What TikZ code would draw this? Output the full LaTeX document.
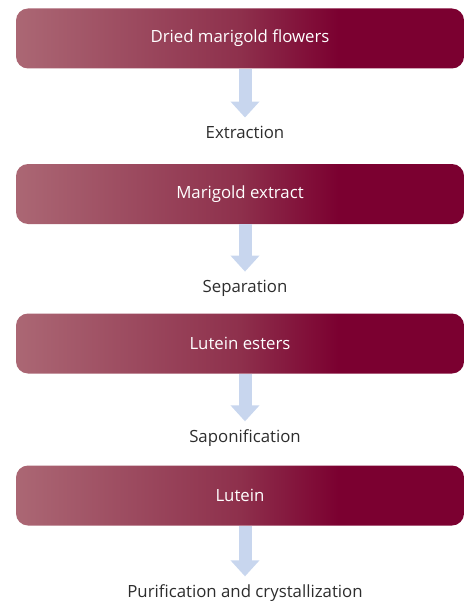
\documentclass[tikz,border=0pt]{standalone}
\usepackage{fontspec}
\setmainfont{Open Sans}
\usetikzlibrary{arrows.meta}
\definecolor{mglight}{RGB}{171,103,116}
\definecolor{mgmid}{RGB}{142,48,76}
\definecolor{mgdark}{RGB}{123,0,48}
\definecolor{arrowblue}{RGB}{200,214,238}
\definecolor{labelgray}{RGB}{45,45,45}
\pgfdeclarehorizontalshading{marigold}{100bp}{color(0bp)=(mglight); color(25bp)=(mglight); color(50bp)=(mgmid); color(61bp)=(mgdark); color(100bp)=(mgdark)}
\begin{document}
\begin{tikzpicture}[x=1pt, y=-1pt, font=\fontsize{16.8}{20}\selectfont,
  stepbox/.style={rectangle, rounded corners=12pt, shading=marigold, minimum width=448pt, minimum height=60pt, text=white},
  steplabel/.style={text=labelgray, inner sep=0pt},
  flow/.style={arrowblue, line width=13pt, shorten >=8pt, -{Triangle[width=28pt,length=16pt]}}]
	\useasboundingbox (0,0) rectangle (464,604);
	\node[stepbox] (dried) at (240,38.5) {Dried marigold flowers};
	\node[stepbox] (extract) at (240,194) {Marigold extract};
	\node[stepbox] (esters) at (240,343.5) {Lutein esters};
	\node[stepbox] (lutein) at (240,495.5) {Lutein};
	\node[steplabel] (extraction) at (245,132) {Extraction};
	\node[steplabel] (separation) at (245,288) {Separation};
	\node[steplabel] (saponification) at (245,438) {Saponification};
	\node[steplabel] (purification) at (245,593) {Purification and crystallization};
	\draw[flow] (dried.south -| extraction.north) -- (extraction.north);
	\draw[flow] (extract.south -| separation.north) -- (separation.north);
	\draw[flow] (esters.south -| saponification.north) -- (saponification.north);
	\draw[flow] (lutein.south -| purification.north) -- (purification.north);
\end{tikzpicture}
\end{document}
